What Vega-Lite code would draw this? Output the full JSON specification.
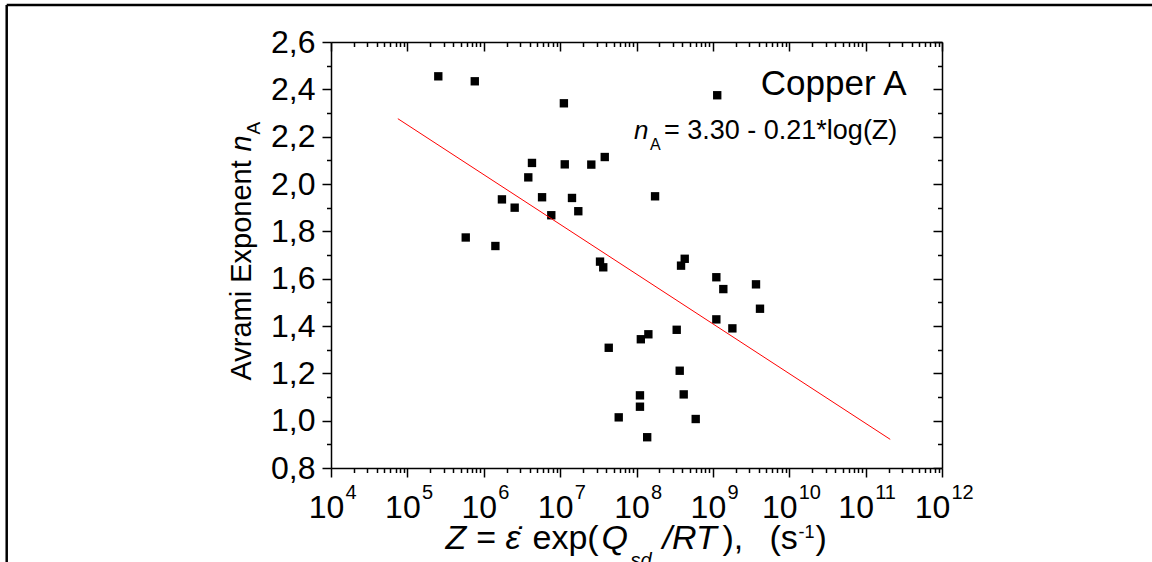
{
  "$schema": "https://vega.github.io/schema/vega-lite/v6.json",
  "width": 611,
  "height": 426,
  "autosize": {"type": "none"},
  "padding": {"left": 331, "top": 42, "right": 210, "bottom": 94},
  "background": "white",
  "config": {
    "view": {"stroke": null},
    "font": "Liberation Sans",
    "axis": {"grid": false, "domainColor": "black", "domainWidth": 1.5, "tickColor": "black", "tickWidth": 1.5, "labelColor": "black", "titleColor": "black", "labelFont": "Liberation Sans", "titleFont": "Liberation Sans", "titleFontWeight": "normal", "labelOverlap": false, "labelFlush": false}
  },
  "datasets": {
    "pts": [
      {"Z": 2.54e5, "n": 2.455}, {"Z": 7.63e5, "n": 2.434}, {"Z": 1.12e7, "n": 2.341}, {"Z": 4.28e6, "n": 2.089},
      {"Z": 3.83e6, "n": 2.028}, {"Z": 1.15e7, "n": 2.083}, {"Z": 2.56e7, "n": 2.082}, {"Z": 3.84e7, "n": 2.114},
      {"Z": 1.73e6, "n": 1.935}, {"Z": 2.54e6, "n": 1.900}, {"Z": 5.80e6, "n": 1.944}, {"Z": 1.43e7, "n": 1.941},
      {"Z": 7.66e6, "n": 1.868}, {"Z": 1.73e7, "n": 1.885}, {"Z": 1.75e8, "n": 1.948}, {"Z": 1.14e9, "n": 2.375},
      {"Z": 5.81e5, "n": 1.774}, {"Z": 1.42e6, "n": 1.738}, {"Z": 3.33e7, "n": 1.672}, {"Z": 3.67e7, "n": 1.648},
      {"Z": 4.28e8, "n": 1.684}, {"Z": 3.83e8, "n": 1.655}, {"Z": 1.11e9, "n": 1.606}, {"Z": 1.37e9, "n": 1.556},
      {"Z": 3.67e9, "n": 1.576}, {"Z": 4.14e9, "n": 1.473}, {"Z": 1.11e9, "n": 1.428}, {"Z": 1.80e9, "n": 1.390},
      {"Z": 3.36e8, "n": 1.384}, {"Z": 1.43e8, "n": 1.365}, {"Z": 1.14e8, "n": 1.344}, {"Z": 4.33e7, "n": 1.308},
      {"Z": 3.68e8, "n": 1.211}, {"Z": 1.11e8, "n": 1.107}, {"Z": 4.15e8, "n": 1.111}, {"Z": 1.11e8, "n": 1.059},
      {"Z": 5.85e7, "n": 1.014}, {"Z": 5.96e8, "n": 1.007}, {"Z": 1.38e8, "n": 0.930}
    ],
    "fit": [{"Z": 7.5e4, "n": 2.276}, {"Z": 2.1e11, "n": 0.921}]
  },
  "resolve": {"axis": {"x": "independent", "y": "independent"}},
  "layer": [
    {
      "data": {"name": "pts"},
      "mark": {"type": "square", "filled": true, "color": "black", "size": 70, "opacity": 1},
      "encoding": {
        "x": {"field": "Z", "type": "quantitative", "scale": {"type": "log", "domain": [1e4, 1e12], "nice": false},
          "axis": {"orient": "bottom", "labels": false,
            "values": [1e4,2e4,3e4,4e4,5e4,6e4,7e4,8e4,9e4,1e5,2e5,3e5,4e5,5e5,6e5,7e5,8e5,9e5,1e6,2e6,3e6,4e6,5e6,6e6,7e6,8e6,9e6,1e7,2e7,3e7,4e7,5e7,6e7,7e7,8e7,9e7,1e8,2e8,3e8,4e8,5e8,6e8,7e8,8e8,9e8,1e9,2e9,3e9,4e9,5e9,6e9,7e9,8e9,9e9,1e10,2e10,3e10,4e10,5e10,6e10,7e10,8e10,9e10,1e11,2e11,3e11,4e11,5e11,6e11,7e11,8e11,9e11,1e12],
            "tickSize": {"condition": {"test": "abs(log(datum.value)/LN10 - round(log(datum.value)/LN10)) < 0.001", "value": 9}, "value": 4.5},
            "title": "Z =", "titleFontStyle": "italic", "titleFontSize": 34, "titleX": 114, "titleY": 80, "titleAlign": "left", "titleBaseline": "alphabetic", "titleAngle": 0}},
        "y": {"field": "n", "type": "quantitative", "scale": {"domain": [0.8, 2.6], "nice": false, "zero": false},
          "axis": {"orient": "left", "labels": false,
            "values": [0.8,0.9,1.0,1.1,1.2,1.3,1.4,1.5,1.6,1.7,1.8,1.9,2.0,2.1,2.2,2.3,2.4,2.5,2.6],
            "tickSize": {"condition": {"test": "abs(datum.value*5 - round(datum.value*5)) < 0.001", "value": 9}, "value": 4.5},
            "title": "Avrami Exponent", "titleFontSize": 29, "titleX": -81, "titleY": 338, "titleAngle": 270, "titleAlign": "left", "titleBaseline": "alphabetic"}}
      }
    },
    {
      "data": {"name": "pts"},
      "mark": {"type": "point", "opacity": 0},
      "encoding": {
        "x": {"field": "Z", "type": "quantitative", "scale": {"type": "log", "domain": [1e4, 1e12], "nice": false},
          "axis": {"orient": "bottom", "ticks": false, "domain": false,
            "values": [1e4,1e5,1e6,1e7,1e8,1e9,1e10,1e11,1e12],
            "labelExpr": "'10'", "labelFontSize": 32, "labelAlign": "center", "labelBaseline": "alphabetic", "labelPadding": 49,
            "labelOffset": {"condition": {"test": "datum.value >= 1e10", "value": -10}, "value": -5},
            "title": "ε̇", "titleFontStyle": "italic", "titleFontSize": 34, "titleX": 174, "titleY": 80, "titleAlign": "left", "titleBaseline": "alphabetic", "titleAngle": 0}},
        "y": {"field": "n", "type": "quantitative", "scale": {"domain": [0.8, 2.6], "nice": false, "zero": false},
          "axis": {"orient": "left", "ticks": false, "domain": false,
            "values": [0.8,1.0,1.2,1.4,1.6,1.8,2.0,2.2,2.4,2.6],
            "labelExpr": "replace(format(datum.value, '.1f'), '.', ',')", "labelFontSize": 32, "labelAlign": "right", "labelBaseline": "middle", "labelPadding": 16,
            "title": "n", "titleFontStyle": "italic", "titleFontSize": 29, "titleX": -81, "titleY": 109, "titleAngle": 270, "titleAlign": "left", "titleBaseline": "alphabetic"}}
      }
    },
    {
      "data": {"name": "pts"},
      "mark": {"type": "point", "opacity": 0},
      "encoding": {
        "x": {"field": "Z", "type": "quantitative", "scale": {"type": "log", "domain": [1e4, 1e12], "nice": false},
          "axis": {"orient": "bottom", "ticks": false, "domain": false,
            "values": [1e4,1e5,1e6,1e7,1e8,1e9,1e10,1e11,1e12],
            "labelExpr": "round(log(datum.value)/LN10) + ''", "labelFontSize": 20, "labelAlign": "left", "labelBaseline": "alphabetic", "labelPadding": 30,
            "labelOffset": {"condition": {"test": "datum.value >= 1e10", "value": 9}, "value": 14},
            "title": "exp(", "titleFontSize": 34, "titleX": 201, "titleY": 80, "titleAlign": "left", "titleBaseline": "alphabetic", "titleAngle": 0}},
        "y": {"field": "n", "type": "quantitative", "scale": {"domain": [0.8, 2.6], "nice": false, "zero": false},
          "axis": {"orient": "left", "ticks": false, "domain": false, "labels": false,
            "title": "A", "titleFontSize": 19, "titleX": -72, "titleY": 92, "titleAngle": 270, "titleAlign": "left", "titleBaseline": "alphabetic"}}
      }
    },
    {
      "data": {"name": "pts"},
      "mark": {"type": "point", "opacity": 0},
      "encoding": {
        "x": {"field": "Z", "type": "quantitative", "scale": {"type": "log", "domain": [1e4, 1e12], "nice": false},
          "axis": {"orient": "top", "labels": false, "title": null,
            "values": [1e4,2e4,3e4,4e4,5e4,6e4,7e4,8e4,9e4,1e5,2e5,3e5,4e5,5e5,6e5,7e5,8e5,9e5,1e6,2e6,3e6,4e6,5e6,6e6,7e6,8e6,9e6,1e7,2e7,3e7,4e7,5e7,6e7,7e7,8e7,9e7,1e8,2e8,3e8,4e8,5e8,6e8,7e8,8e8,9e8,1e9,2e9,3e9,4e9,5e9,6e9,7e9,8e9,9e9,1e10,2e10,3e10,4e10,5e10,6e10,7e10,8e10,9e10,1e11,2e11,3e11,4e11,5e11,6e11,7e11,8e11,9e11,1e12],
            "tickSize": {"condition": {"test": "abs(log(datum.value)/LN10 - round(log(datum.value)/LN10)) < 0.001", "value": -9}, "value": -4.5}}},
        "y": {"field": "n", "type": "quantitative", "scale": {"domain": [0.8, 2.6], "nice": false, "zero": false},
          "axis": {"orient": "right", "labels": false, "title": null,
            "values": [0.8,0.9,1.0,1.1,1.2,1.3,1.4,1.5,1.6,1.7,1.8,1.9,2.0,2.1,2.2,2.3,2.4,2.5,2.6],
            "tickSize": {"condition": {"test": "abs(datum.value*5 - round(datum.value*5)) < 0.001", "value": -9}, "value": -4.5}}}
      }
    },
    {
      "data": {"name": "pts"},
      "mark": {"type": "point", "opacity": 0},
      "encoding": {
        "x": {"field": "Z", "type": "quantitative", "scale": {"type": "log", "domain": [1e4, 1e12], "nice": false},
          "axis": {"orient": "bottom", "ticks": false, "domain": false, "labels": false,
            "title": "Q", "titleFontStyle": "italic", "titleFontSize": 34, "titleX": 270, "titleY": 80, "titleAlign": "left", "titleBaseline": "alphabetic", "titleAngle": 0}},
        "y": {"field": "n", "type": "quantitative", "scale": {"domain": [0.8, 2.6], "nice": false, "zero": false}, "axis": null}
      }
    },
    {
      "data": {"name": "pts"},
      "mark": {"type": "point", "opacity": 0},
      "encoding": {
        "x": {"field": "Z", "type": "quantitative", "scale": {"type": "log", "domain": [1e4, 1e12], "nice": false},
          "axis": {"orient": "bottom", "ticks": false, "domain": false, "labels": false,
            "title": "sd", "titleFontStyle": "italic", "titleFontSize": 20, "titleX": 299, "titleY": 98, "titleAlign": "left", "titleBaseline": "alphabetic", "titleAngle": 0}},
        "y": {"field": "n", "type": "quantitative", "scale": {"domain": [0.8, 2.6], "nice": false, "zero": false}, "axis": null}
      }
    },
    {
      "data": {"name": "pts"},
      "mark": {"type": "point", "opacity": 0},
      "encoding": {
        "x": {"field": "Z", "type": "quantitative", "scale": {"type": "log", "domain": [1e4, 1e12], "nice": false},
          "axis": {"orient": "bottom", "ticks": false, "domain": false, "labels": false,
            "title": "/RT", "titleFontStyle": "italic", "titleFontSize": 34, "titleX": 331, "titleY": 80, "titleAlign": "left", "titleBaseline": "alphabetic", "titleAngle": 0}},
        "y": {"field": "n", "type": "quantitative", "scale": {"domain": [0.8, 2.6], "nice": false, "zero": false}, "axis": null}
      }
    },
    {
      "data": {"name": "pts"},
      "mark": {"type": "point", "opacity": 0},
      "encoding": {
        "x": {"field": "Z", "type": "quantitative", "scale": {"type": "log", "domain": [1e4, 1e12], "nice": false},
          "axis": {"orient": "bottom", "ticks": false, "domain": false, "labels": false,
            "title": "),", "titleFontSize": 34, "titleX": 391, "titleY": 80, "titleAlign": "left", "titleBaseline": "alphabetic", "titleAngle": 0}},
        "y": {"field": "n", "type": "quantitative", "scale": {"domain": [0.8, 2.6], "nice": false, "zero": false}, "axis": null}
      }
    },
    {
      "data": {"name": "pts"},
      "mark": {"type": "point", "opacity": 0},
      "encoding": {
        "x": {"field": "Z", "type": "quantitative", "scale": {"type": "log", "domain": [1e4, 1e12], "nice": false},
          "axis": {"orient": "bottom", "ticks": false, "domain": false, "labels": false,
            "title": "(s", "titleFontSize": 34, "titleX": 438, "titleY": 80, "titleAlign": "left", "titleBaseline": "alphabetic", "titleAngle": 0}},
        "y": {"field": "n", "type": "quantitative", "scale": {"domain": [0.8, 2.6], "nice": false, "zero": false}, "axis": null}
      }
    },
    {
      "data": {"name": "pts"},
      "mark": {"type": "point", "opacity": 0},
      "encoding": {
        "x": {"field": "Z", "type": "quantitative", "scale": {"type": "log", "domain": [1e4, 1e12], "nice": false},
          "axis": {"orient": "bottom", "ticks": false, "domain": false, "labels": false,
            "title": "-1", "titleFontSize": 18, "titleX": 467, "titleY": 69, "titleAlign": "left", "titleBaseline": "alphabetic", "titleAngle": 0}},
        "y": {"field": "n", "type": "quantitative", "scale": {"domain": [0.8, 2.6], "nice": false, "zero": false}, "axis": null}
      }
    },
    {
      "data": {"name": "pts"},
      "mark": {"type": "point", "opacity": 0},
      "encoding": {
        "x": {"field": "Z", "type": "quantitative", "scale": {"type": "log", "domain": [1e4, 1e12], "nice": false},
          "axis": {"orient": "bottom", "ticks": false, "domain": false, "labels": false,
            "title": ")", "titleFontSize": 34, "titleX": 484, "titleY": 80, "titleAlign": "left", "titleBaseline": "alphabetic", "titleAngle": 0}},
        "y": {"field": "n", "type": "quantitative", "scale": {"domain": [0.8, 2.6], "nice": false, "zero": false}, "axis": null}
      }
    },
    {
      "data": {"name": "fit"},
      "mark": {"type": "line", "color": "#ff0000", "strokeWidth": 1},
      "encoding": {
        "x": {"field": "Z", "type": "quantitative", "scale": {"type": "log", "domain": [1e4, 1e12], "nice": false}, "axis": null},
        "y": {"field": "n", "type": "quantitative", "scale": {"domain": [0.8, 2.6], "nice": false, "zero": false}, "axis": null}
      }
    },
    {
      "data": {"values": [{"t": "Copper A"}]},
      "mark": {"type": "text", "align": "right", "baseline": "alphabetic", "fontSize": 35, "color": "black"},
      "encoding": {
        "x": {"datum": 3.45e11, "type": "quantitative", "scale": {"type": "log", "domain": [1e4, 1e12], "nice": false}, "axis": null},
        "y": {"datum": 2.376, "type": "quantitative", "scale": {"domain": [0.8, 2.6], "nice": false, "zero": false}, "axis": null},
        "text": {"field": "t"}
      }
    },
    {
      "data": {"values": [{"t": "n"}]},
      "mark": {"type": "text", "align": "left", "baseline": "alphabetic", "fontSize": 26, "fontStyle": "italic", "color": "black"},
      "encoding": {
        "x": {"datum": 9.27e7, "type": "quantitative", "scale": {"type": "log", "domain": [1e4, 1e12], "nice": false}, "axis": null},
        "y": {"datum": 2.189, "type": "quantitative", "scale": {"domain": [0.8, 2.6], "nice": false, "zero": false}, "axis": null},
        "text": {"field": "t"}
      }
    },
    {
      "data": {"values": [{"t": "A"}]},
      "mark": {"type": "text", "align": "left", "baseline": "alphabetic", "fontSize": 16, "color": "black"},
      "encoding": {
        "x": {"datum": 1.5e8, "type": "quantitative", "scale": {"type": "log", "domain": [1e4, 1e12], "nice": false}, "axis": null},
        "y": {"datum": 2.144, "type": "quantitative", "scale": {"domain": [0.8, 2.6], "nice": false, "zero": false}, "axis": null},
        "text": {"field": "t"}
      }
    },
    {
      "data": {"values": [{"t": "= 3.30 - 0.21*log(Z)"}]},
      "mark": {"type": "text", "align": "left", "baseline": "alphabetic", "fontSize": 27, "color": "black"},
      "encoding": {
        "x": {"datum": 2.29e8, "type": "quantitative", "scale": {"type": "log", "domain": [1e4, 1e12], "nice": false}, "axis": null},
        "y": {"datum": 2.189, "type": "quantitative", "scale": {"domain": [0.8, 2.6], "nice": false, "zero": false}, "axis": null},
        "text": {"field": "t"}
      }
    },
    {
      "data": {"values": [{"edge": "top"}]},
      "mark": {"type": "rule", "color": "black", "strokeWidth": 2.5, "clip": false},
      "encoding": {
        "x": {"datum": 0.5675, "type": "quantitative", "scale": {"type": "log", "domain": [1e4, 1e12], "nice": false}, "axis": null},
        "x2": {"datum": 1e16},
        "y": {"datum": 2.7563, "type": "quantitative", "scale": {"domain": [0.8, 2.6], "nice": false, "zero": false}, "axis": null}
      }
    },
    {
      "data": {"values": [{"edge": "left"}]},
      "mark": {"type": "rule", "color": "black", "strokeWidth": 2.5, "clip": false},
      "encoding": {
        "x": {"datum": 0.5675, "type": "quantitative", "scale": {"type": "log", "domain": [1e4, 1e12], "nice": false}, "axis": null},
        "y": {"datum": 2.7563, "type": "quantitative", "scale": {"domain": [0.8, 2.6], "nice": false, "zero": false}, "axis": null},
        "y2": {"datum": -1}
      }
    }
  ]
}
